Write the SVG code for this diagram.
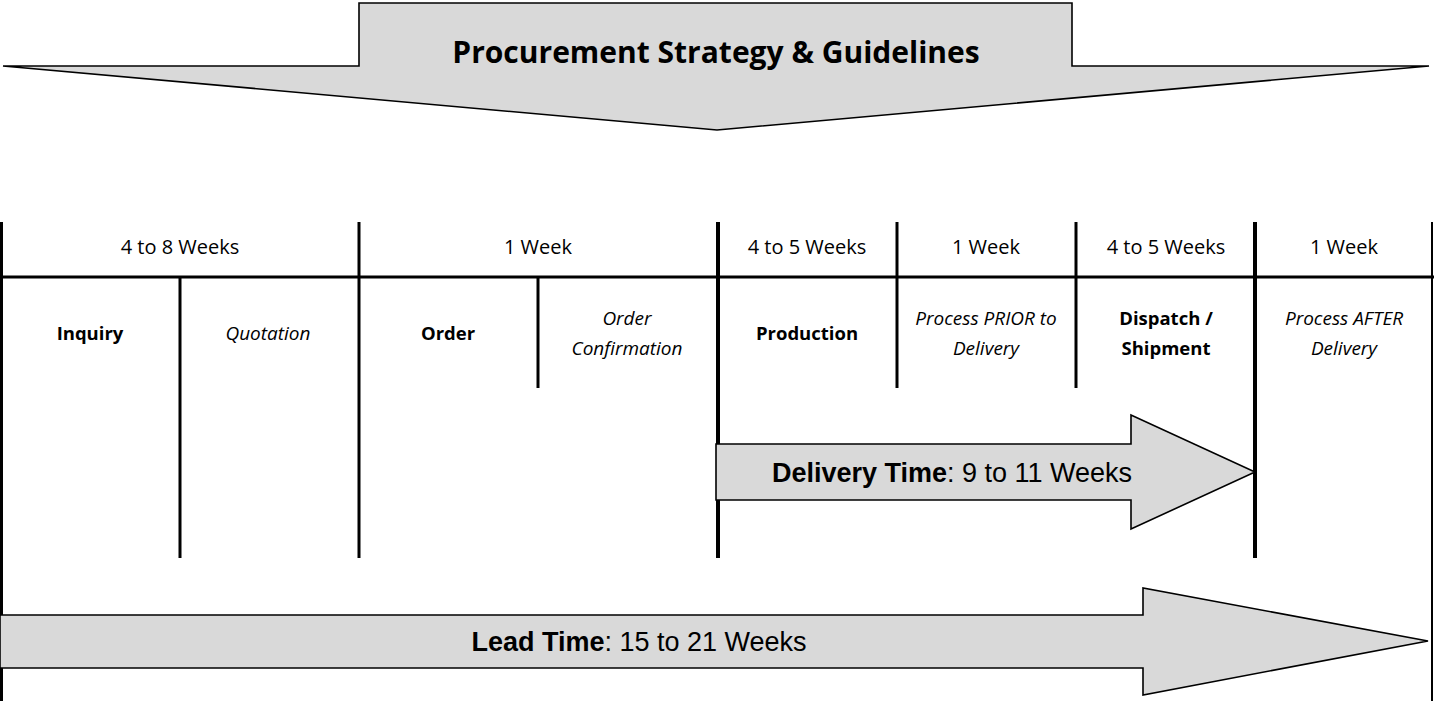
<svg xmlns="http://www.w3.org/2000/svg" width="1434" height="701" viewBox="0 0 1434 701">
<style>
.shape{fill:#d9d9d9;stroke:#000;stroke-width:1.6;stroke-linejoin:miter}
.ln{stroke:#000;fill:none}
.t{font-family:"Open Sans","Liberation Sans",sans-serif;fill:#000;text-anchor:middle}
.hd{font-size:20px}
.b{font-weight:bold;font-size:18.5px}
.i{font-style:italic;font-size:19px}
.title{font-family:"Open Sans","Liberation Sans",sans-serif;font-weight:bold;font-size:30px;text-anchor:middle}
.ar{font-family:"Liberation Sans",Arial,sans-serif;font-size:27px;text-anchor:middle;fill:#000}
</style>
<rect width="1434" height="701" fill="#fff"/>
<g id="callout">
<polygon class="shape" points="3,66 359,66 359,3 1072,3 1072,66 1429,66 717,130"/>
<text class="title" x="716" y="63">Procurement Strategy &amp; Guidelines</text>
</g>
<g id="connectors">
<line class="ln" x1="0" y1="277" x2="1434" y2="277" stroke-width="3"/>
<line class="ln" x1="1.5" y1="222" x2="1.5" y2="701" stroke-width="3"/>
<line class="ln" x1="180" y1="277" x2="180" y2="558" stroke-width="3"/>
<line class="ln" x1="359" y1="222" x2="359" y2="558" stroke-width="3"/>
<line class="ln" x1="538" y1="277" x2="538" y2="388" stroke-width="3"/>
<line class="ln" x1="718" y1="222" x2="718" y2="558" stroke-width="4"/>
<line class="ln" x1="897" y1="222" x2="897" y2="388" stroke-width="3"/>
<line class="ln" x1="1076" y1="222" x2="1076" y2="388" stroke-width="3"/>
<line class="ln" x1="1255" y1="222" x2="1255" y2="558" stroke-width="4"/>
<line class="ln" x1="1432" y1="222" x2="1432" y2="701" stroke-width="2"/>
</g>
<g id="headers">
<text class="t hd" x="180" y="254">4 to 8 Weeks</text>
<text class="t hd" x="538" y="254">1 Week</text>
<text class="t hd" x="807" y="254">4 to 5 Weeks</text>
<text class="t hd" x="986" y="254">1 Week</text>
<text class="t hd" x="1166" y="254">4 to 5 Weeks</text>
<text class="t hd" x="1344" y="254">1 Week</text>
</g>
<g id="inquiry"><text class="t b" x="90" y="340">Inquiry</text></g>
<g id="quotation"><text class="t i" x="268" y="340">Quotation</text></g>
<g id="order"><text class="t b" x="448" y="340">Order</text></g>
<g id="order-confirmation"><text class="t i" x="627" y="325">Order</text><text class="t i" x="627" y="355">Confirmation</text></g>
<g id="production"><text class="t b" x="807" y="340">Production</text></g>
<g id="process-prior"><text class="t i" x="986" y="325">Process PRIOR to</text><text class="t i" x="986" y="355">Delivery</text></g>
<g id="dispatch"><text class="t b" x="1166" y="325">Dispatch /</text><text class="t b" x="1166" y="355">Shipment</text></g>
<g id="process-after"><text class="t i" x="1344" y="325">Process AFTER</text><text class="t i" x="1344" y="355">Delivery</text></g>
<g id="delivery-time">
<polygon class="shape" points="716,444 1131,444 1131,415 1255,472 1131,529 1131,500 716,500"/>
<text class="ar" x="952" y="482"><tspan font-weight="bold">Delivery Time</tspan>: 9 to 11 Weeks</text>
</g>
<g id="lead-time">
<polygon class="shape" points="0,615 1143,615 1143,588 1428,641 1143,695 1143,668 0,668"/>
<text class="ar" x="639" y="651"><tspan font-weight="bold">Lead Time</tspan>: 15 to 21 Weeks</text>
</g>
</svg>
